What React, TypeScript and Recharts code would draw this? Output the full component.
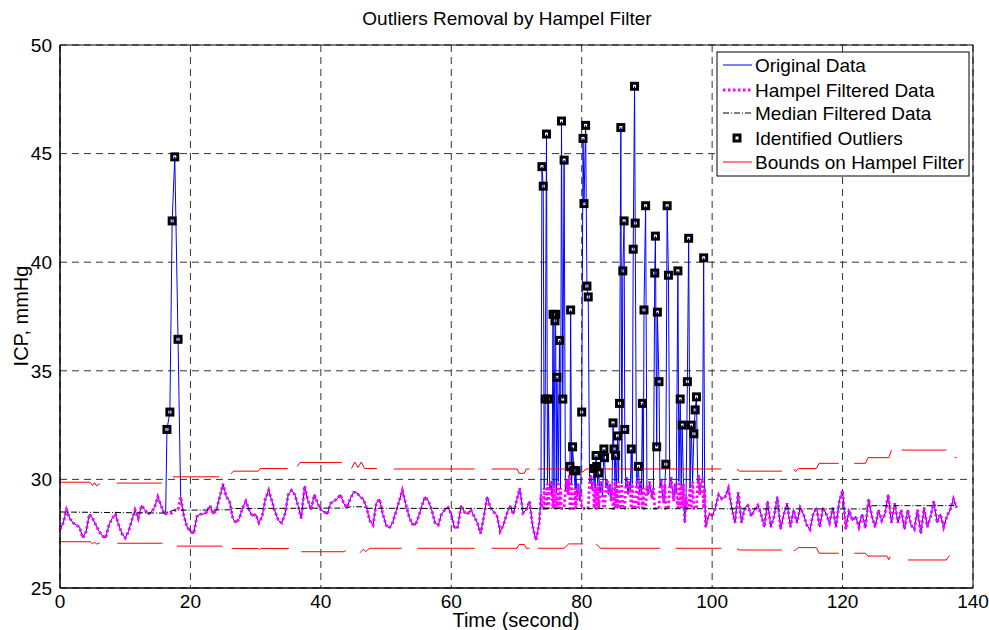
import { CartesianGrid, ComposedChart, Line, ReferenceArea, Scatter, XAxis, YAxis } from 'recharts'

// MATLAB-style figure: ICP trace with Hampel filter outlier removal.
const FONT = '"Liberation Sans", Arial, sans-serif'
const FONT_SIZE = 19

const X_TICKS = [0, 20, 40, 60, 80, 100, 120, 140]
const Y_TICKS = [25, 30, 35, 40, 45, 50]

const STEP = 0.5

// quiet stretches, one value every STEP seconds
const calmStart = [
  27.7, 28.0, 28.6, 28.2, 28.0, 27.9, 27.8, 27.3, 27.6, 28.4,
  28.2, 27.9, 27.6, 27.4, 27.3, 27.9, 28.2, 28.4, 27.9, 27.5,
  27.3, 27.6, 28.1, 28.6, 28.2, 28.8, 28.6, 28.4, 28.5, 28.7,
  29.2, 28.8, 28.4,
] // t = 0 .. 16

const calmMid = [
  28.3, 27.8, 27.6, 27.5, 28.3, 28.4, 28.4, 28.5, 28.8, 28.4,
  28.6, 29.2, 29.8, 29.2, 29.0, 28.2, 28.0, 28.2, 28.7, 29.0,
  28.6, 28.3, 28.4, 28.0, 28.3, 29.1, 29.5, 29.0, 28.5, 28.1,
  28.0, 28.4, 29.3, 29.5, 29.3, 28.8, 28.2, 29.7, 29.05, 28.6,
  29.3, 28.9, 28.6, 28.5, 28.4, 28.9, 29.0, 29.1, 29.3, 28.9,
  28.7, 29.1, 29.4, 29.4, 29.2, 29.1, 28.7, 28.1, 27.9, 28.9,
  29.1, 28.4, 27.9, 27.75, 28.0, 28.5, 29.0, 29.5, 28.9, 28.3,
  27.95, 27.9, 28.3, 28.8, 29.2, 29.0, 28.6, 28.0, 27.9, 28.4,
  28.6, 28.7, 28.4, 27.75, 27.8, 28.8, 28.5, 28.4, 28.6, 28.3,
  28.0, 27.5, 28.3, 29.2, 28.7, 28.5, 28.35, 27.6, 27.9, 28.4,
  28.8, 28.4, 29.0, 29.6, 28.45, 28.6, 29.0, 27.8, 27.2, 28.0,
] // t = 19 .. 73.5

const calmEnd = [
  28.3, 28.7, 29.3, 29.1, 29.2, 29.6, 28.7, 28.0, 29.4, 28.0,
  28.7, 28.8, 28.3, 28.6, 28.8, 28.4, 27.8, 29.0, 27.8, 28.3,
  29.2, 27.7, 28.4, 28.9, 27.8, 28.6, 28.0, 28.7, 28.4, 27.9,
  27.7, 28.4, 28.7, 27.8, 28.7, 28.4, 28.0, 28.7, 27.8, 29.0,
  29.5, 27.7, 28.6, 28.1, 28.3, 27.8, 28.4, 27.75, 29.1, 28.3,
  27.8, 28.6, 28.1, 28.4, 29.3, 28.0, 28.9, 28.0, 28.6, 27.7,
  28.6, 27.9, 27.7, 28.6, 27.5, 28.7, 27.8, 28.3, 29.0, 28.0,
  28.4, 27.8, 28.3, 28.6, 29.1, 28.7,
] // t = 100 .. 137.5

// [time, value, 1 = identified outlier]
const spikeA = [
  [16.2, 28.4, 0], [16.4, 32.3, 1], [16.85, 33.1, 1], [17.2, 41.9, 1],
  [17.6, 44.85, 1], [18.1, 36.45, 1], [18.5, 29.2, 0],
]

const spikeB = [
  [73.75, 29.3, 0], [73.9, 44.4, 1], [74.1, 43.5, 1], [74.25, 29.6, 0], [74.4, 33.7, 1],
  [74.6, 45.9, 1], [74.75, 29.8, 0], [74.9, 33.7, 1], [75.1, 29.5, 0], [75.3, 29.9, 0],
  [75.45, 29.2, 0], [75.6, 37.6, 1], [75.75, 29.7, 0], [75.9, 37.3, 1], [76.0, 37.6, 1],
  [76.1, 29.4, 0], [76.2, 34.7, 1], [76.4, 29.9, 0], [76.6, 36.4, 1], [76.75, 29.6, 0],
  [76.9, 46.5, 1], [77.1, 33.7, 1], [77.3, 44.7, 1], [77.5, 29.5, 0], [77.7, 30.0, 0],
  [77.9, 29.3, 0], [78.1, 30.2, 0], [78.2, 30.6, 1], [78.3, 37.8, 1], [78.45, 29.8, 0],
  [78.6, 31.5, 1], [78.8, 30.4, 1], [79.0, 29.6, 0], [79.1, 30.4, 1], [79.3, 29.2, 0],
  [79.5, 29.8, 0], [79.7, 29.0, 0], [79.85, 29.4, 0], [80.0, 33.1, 1], [80.2, 45.7, 1],
  [80.35, 42.7, 1], [80.6, 46.3, 1], [80.8, 38.9, 1], [81.0, 38.4, 1], [81.2, 29.8, 0],
  [81.4, 30.2, 0], [81.6, 29.5, 0], [81.75, 29.9, 0], [81.9, 30.5, 1], [82.05, 29.6, 0],
  [82.2, 31.1, 1], [82.3, 30.6, 1], [82.45, 29.8, 0], [82.6, 30.3, 1], [82.8, 29.4, 0],
  [83.0, 29.9, 0], [83.2, 29.2, 0], [83.4, 31.4, 1], [83.5, 31.0, 1], [83.7, 29.6, 0],
  [83.9, 30.0, 0], [84.1, 29.3, 0], [84.3, 29.8, 0], [84.5, 29.0, 0], [84.65, 29.6, 0],
  [84.8, 32.6, 1], [84.95, 31.4, 1], [85.1, 29.9, 0], [85.2, 31.1, 1], [85.35, 29.7, 0],
  [85.5, 32.0, 1], [85.65, 29.9, 0], [85.8, 33.5, 1], [86.0, 46.2, 1], [86.15, 29.8, 0],
  [86.3, 39.6, 1], [86.5, 41.9, 1], [86.6, 32.3, 1], [86.75, 29.6, 0], [86.9, 30.1, 0],
  [87.1, 29.3, 0], [87.3, 29.9, 0], [87.45, 29.5, 0], [87.6, 31.4, 1], [87.75, 29.8, 0],
  [87.9, 40.6, 1], [88.1, 48.1, 1], [88.2, 41.8, 1], [88.4, 29.6, 0], [88.55, 30.1, 0],
  [88.7, 30.6, 1], [88.85, 29.4, 0], [89.0, 29.9, 0], [89.15, 29.3, 0], [89.3, 33.5, 1],
  [89.45, 29.6, 0], [89.55, 37.8, 1], [89.8, 42.6, 1], [90.0, 29.7, 0], [90.2, 29.3, 0],
  [90.4, 29.9, 0], [90.6, 29.5, 0], [90.8, 29.1, 0], [91.0, 29.6, 0], [91.2, 39.5, 1],
  [91.3, 41.2, 1], [91.5, 31.5, 1], [91.6, 37.7, 1], [91.85, 34.5, 1], [92.0, 29.6, 0],
  [92.2, 30.0, 0], [92.4, 29.2, 0], [92.6, 28.9, 0], [92.75, 29.8, 0], [92.9, 30.7, 1],
  [93.1, 42.6, 1], [93.3, 39.4, 1], [93.5, 29.7, 0], [93.7, 30.1, 0], [93.9, 29.5, 0],
  [94.1, 29.0, 0], [94.3, 29.8, 0], [94.5, 29.4, 0], [94.75, 39.6, 1], [94.9, 29.9, 0],
  [95.1, 33.7, 1], [95.25, 29.7, 0], [95.4, 32.5, 1], [95.6, 29.8, 0], [95.8, 28.0, 0],
  [96.0, 29.2, 0], [96.2, 34.5, 1], [96.4, 41.1, 1], [96.6, 29.6, 0], [96.8, 32.5, 1],
  [97.0, 29.9, 0], [97.2, 32.1, 1], [97.4, 33.2, 1], [97.6, 33.8, 1], [97.8, 29.8, 0],
  [97.95, 30.2, 0], [98.1, 29.3, 0], [98.3, 29.8, 0], [98.5, 29.9, 0], [98.7, 40.2, 1],
  [98.85, 29.6, 0], [99.0, 27.8, 0], [99.3, 28.2, 0], [99.6, 28.4, 0],
]

// median filtered trace, [time, value]
const medianPts = [
  [0, 28.5], [16, 28.45], [17.5, 28.58], [26, 28.6], [26.5, 28.66], [44, 28.68],
  [44.5, 28.74], [46.5, 28.74], [47, 28.67], [123.5, 28.64], [124, 28.79], [137.5, 28.79],
]

// Hampel bounds, [time, value]; null value = gap in the drawn line
const upperBound = [
  [0, 29.87], [4.6, 29.87], [5.0, 29.72], [5.3, 29.85], [5.6, 29.7], [6.1, 29.8], [7, null],
  [8.7, 29.83], [15.6, 29.83], [16.5, null],
  [17.3, 30.12], [24.4, 30.12], [25, null],
  [26.2, 30.25], [26.6, 30.38], [30.4, 30.38], [30.7, 30.5], [34.9, 30.5], [35.5, null],
  [36.4, 30.6], [36.8, 30.78], [43.2, 30.78], [44, null],
  [44.7, 30.5], [45.2, 30.8], [45.7, 30.55], [46.2, 30.8], [46.7, 30.5], [48.6, 30.5], [50, null],
  [51.2, 30.48], [63.6, 30.48], [65, null],
  [66.2, 30.48], [70.1, 30.48], [70.4, 30.28], [71.2, 30.28], [71.5, 30.48], [72.0, 30.48], [72.5, null],
  [73.3, 30.48], [77.3, 30.48], [78.0, 30.34], [80.2, 30.34], [80.6, 30.48], [101.4, 30.48], [102.5, null],
  [103.8, 30.48], [104.2, 30.38], [110.7, 30.38], [111.5, null],
  [112.5, 30.48], [112.8, 30.36], [113.2, 30.5], [116.0, 30.5], [116.4, 30.74], [119.4, 30.74], [120.5, null],
  [121.8, 30.74], [123.5, 30.74], [123.9, 31.0], [127.1, 31.0], [127.5, 31.35], [128.3, null],
  [129.1, 31.35], [135.9, 31.35], [136.6, null],
  [137.2, 31.0], [137.5, 31.0],
]

const lowerBound = [
  [0, 27.13], [4.7, 27.13], [5.0, 27.03], [5.3, 27.12], [5.6, 27.02], [6.1, 27.08], [7, null],
  [8.8, 27.06], [15.7, 27.06], [16.8, null],
  [17.9, 26.93], [24.9, 26.93], [25.6, null],
  [26.4, 26.82], [30.4, 26.82], [30.6, 26.76], [30.8, 26.82], [35.1, 26.82], [36, null],
  [37.0, 26.67], [43.6, 26.67], [43.8, 26.74], [45, null],
  [46.0, 26.62], [46.5, 26.78], [46.9, 26.68], [47.5, 26.83], [52.4, 26.83], [53.5, null],
  [54.8, 26.83], [63.6, 26.83], [65, null],
  [66.2, 26.83], [70.1, 26.83], [70.4, 27.0], [71.2, 27.0], [71.5, 26.83], [72.0, 26.83], [72.5, null],
  [73.3, 26.83], [77.3, 26.83], [78.0, 27.03], [80.2, 27.03], [81, null],
  [82.2, 27.03], [82.9, 26.83], [92.0, 26.83], [93, null],
  [94.4, 26.83], [101.4, 26.83], [102.5, null],
  [103.8, 26.8], [104.2, 26.75], [110.7, 26.75], [111.5, null],
  [112.5, 26.7], [112.8, 26.76], [113.2, 26.86], [116.0, 26.86], [116.4, 26.6], [119.4, 26.6], [120.5, null],
  [121.8, 26.6], [123.5, 26.6], [123.9, 26.47], [126.8, 26.47], [127.1, 26.3], [127.3, 26.45], [128.5, null],
  [130.0, 26.29], [135.9, 26.29], [136.4, 26.5],
]

type Pt = { t: number; v: number | null; out?: boolean }

const calm = (start: number, values: number[]): Pt[] => values.map((v, i) => ({ t: start + i * STEP, v }))
const spike = (rows: number[][]): Pt[] => rows.map(([t, v, o]) => ({ t, v, out: o === 1 }))
const pairs = (rows: (number | null)[][]): Pt[] => rows.map(([t, v]) => ({ t: t as number, v }))

const original: Pt[] = [
  ...calm(0, calmStart),
  ...spike(spikeA),
  ...calm(19, calmMid),
  ...spike(spikeB),
  ...calm(100, calmEnd),
]

function medianAt(t: number) {
  let v = medianPts[0][1]
  for (const [mt, mv] of medianPts) if (mt <= t) v = mv
  return v
}

const hampel = original.map((p) => (p.out ? { t: p.t, v: medianAt(p.t) } : p))
const outliers = original.filter((p) => p.out)
const median = pairs(medianPts)
const upper = pairs(upperBound)
const lower = pairs(lowerBound)

function OutlierMark(props: any) {
  const { cx, cy } = props
  if (cx == null || cy == null) return null
  return <rect x={cx - 3} y={cy - 3} width={6} height={6} fill="none" stroke="#000" strokeWidth={3} />
}

const TICK = { fill: '#000', fontSize: FONT_SIZE, fontFamily: FONT }
const W = 989
const H = 630

const LEGEND = [
  { label: 'Original Data', kind: 'orig' },
  { label: 'Hampel Filtered Data', kind: 'hampel' },
  { label: 'Median Filtered Data', kind: 'median' },
  { label: 'Identified Outliers', kind: 'outlier' },
  { label: 'Bounds on Hampel Filter', kind: 'bounds' },
]
const LEGEND_ROWS = [65, 90, 113, 138, 162]

function LegendSample({ kind, y }: { kind: string; y: number }) {
  if (kind === 'outlier') return <rect x={734} y={y - 3} width={6} height={6} fill="none" stroke="#000" strokeWidth={3} />
  if (kind === 'hampel') return <line x1={723} x2={752} y1={y} y2={y} stroke="#ff00ff" strokeWidth={2.8} strokeDasharray="2.5 2.5" />
  if (kind === 'median') return <line x1={723} x2={752} y1={y} y2={y} stroke="#000" strokeDasharray="6 2 1 2" />
  return <line x1={723} x2={752} y1={y} y2={y} stroke={kind === 'orig' ? '#0000ff' : '#ff0000'} />
}

export default function App() {
  return (
    <div style={{ position: 'relative', width: W, height: H, fontFamily: FONT, overflow: 'hidden' }}>
      <style>{'body { margin: 0; overflow: hidden; }'}</style>
      <ComposedChart width={W} height={H} margin={{ top: 45, right: 16, bottom: 0, left: 0 }}>
        <CartesianGrid stroke="#333" strokeDasharray="7 5" />
        <XAxis
          type="number"
          dataKey="t"
          domain={[0, 140]}
          ticks={X_TICKS}
          height={42}
          tick={TICK}
          tickLine={false}
          tickSize={0}
          tickMargin={7}
          axisLine={{ stroke: '#000' }}
        />
        <YAxis
          type="number"
          dataKey="v"
          domain={[25, 50]}
          ticks={Y_TICKS}
          width={60}
          tick={TICK}
          tickLine={false}
          tickSize={0}
          tickMargin={8}
          axisLine={{ stroke: '#000' }}
        />
        <Line data={original} dataKey="v" stroke="#0000ff" strokeWidth={1} dot={false} activeDot={false} isAnimationActive={false} />
        <Line
          data={hampel}
          dataKey="v"
          stroke="#ff00ff"
          strokeWidth={2.8}
          strokeDasharray="2.5 2.5"
          dot={false}
          activeDot={false}
          isAnimationActive={false}
        />
        <Line data={median} dataKey="v" stroke="#000" strokeWidth={1} strokeDasharray="6 2 1 2" dot={false} activeDot={false} isAnimationActive={false} />
        <Scatter data={outliers} dataKey="v" shape={<OutlierMark />} isAnimationActive={false} />
        <Line data={upper} dataKey="v" stroke="#ff0000" strokeWidth={1} dot={false} activeDot={false} connectNulls={false} isAnimationActive={false} />
        <Line data={lower} dataKey="v" stroke="#ff0000" strokeWidth={1} dot={false} activeDot={false} connectNulls={false} isAnimationActive={false} />
        <ReferenceArea x1={0} x2={140} y1={25} y2={50} fill="none" fillOpacity={0} stroke="#000" strokeWidth={1} />
      </ComposedChart>
      <svg width={W} height={H} style={{ position: 'absolute', left: 0, top: 0, pointerEvents: 'none' }}>
        <text x={507} y={25} textAnchor="middle" fontSize={FONT_SIZE} fill="#000">
          Outliers Removal by Hampel Filter
        </text>
        <text x={516} y={627} textAnchor="middle" fontSize={FONT_SIZE + 1} fill="#000">
          Time (second)
        </text>
        <text x={28} y={316} textAnchor="middle" fontSize={FONT_SIZE + 1} fill="#000" transform="rotate(-90 28 316)">
          ICP, mmHg
        </text>
        <rect x={717} y={52} width={252} height={124} fill="#fff" stroke="#000" />
        {LEGEND.map((item, i) => (
          <g key={item.kind}>
            <LegendSample kind={item.kind} y={LEGEND_ROWS[i]} />
            <text x={755} y={LEGEND_ROWS[i] + 6.5} fontSize={FONT_SIZE} fill="#000">
              {item.label}
            </text>
          </g>
        ))}
      </svg>
    </div>
  )
}
